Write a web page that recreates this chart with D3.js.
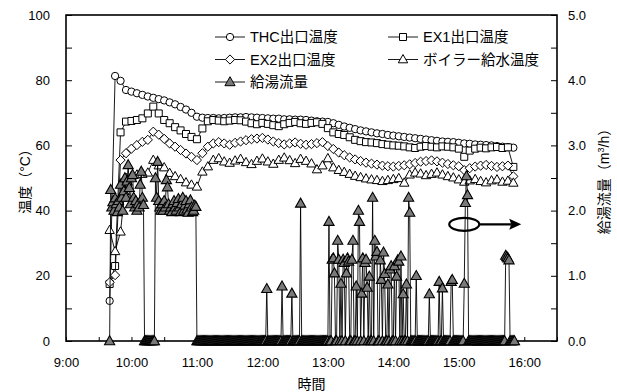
<!DOCTYPE html>
<html>
<head>
<meta charset="utf-8">
<script src="https://cdn.jsdelivr.net/npm/d3@7"></script>
<style>
  body { margin: 0; background: #fff; }
  svg text { font-family: "Liberation Sans", "Noto Sans CJK JP", sans-serif; fill: #000; }
</style>
</head>
<body>
<div id="chart"></div>
<script>
// ---- data ----
const legendLabels = ['THC出口温度', 'EX1出口温度', 'EX2出口温度', 'ボイラー給水温度', '給湯流量'];
const xTickLabels = ['9:00', '10:00', '11:00', '12:00', '13:00', '14:00', '15:00', '16:00'];
const tempTickLabels = [0, 20, 40, 60, 80, 100];
const flowTickLabels = [0, 1, 2, 3, 4, 5];

// temperatures: one reading every 5 minutes from 9:40
const tempStart = '9:40';
const thcTemp = [
  12.3, 81.3, 79.8, 77.0, 76.5, 76.0, 75.5, 75.0, 74.6, 74.2,
  73.8, 73.2, 72.6, 71.8, 71.0, 70.0, 68.8, 68.5, 68.4, 68.4,
  68.3, 68.4, 68.5, 68.6, 68.6, 68.7, 68.6, 68.5, 68.4, 68.3,
  68.2, 68.2, 68.0, 68.0, 67.9, 67.9, 67.8, 67.6, 67.4, 67.3,
  67.2, 66.8, 66.3, 65.8, 65.4, 65.0, 64.6, 64.3, 64.0, 63.7,
  63.5, 63.2, 63.0, 62.8, 62.6, 62.4, 62.2, 62.0, 61.8, 61.6,
  61.4, 61.2, 61.1, 61.0, 60.8, 60.6, 60.5, 60.3, 60.2, 60.1,
  60.0, 59.8, 59.6, 59.5, 59.3
];
const ex1Temp = [
  17.5, 23.0, 64.0, 67.3, 67.5, 67.8, 68.3, 69.8, 71.9, 69.8,
  67.8, 66.8, 65.6, 64.6, 63.5, 62.6, 61.9, 65.2, 67.4, 67.8,
  67.6, 67.4, 67.6, 67.8, 67.7, 67.3, 66.8, 66.5, 66.9, 66.6,
  66.2, 65.9, 66.5, 66.9, 67.2, 66.8, 66.6, 66.9, 67.1, 66.6,
  65.3, 64.0, 63.5, 63.2, 62.5, 61.7, 61.3, 61.0, 60.9, 60.7,
  60.4, 60.2, 60.0, 59.9, 59.7, 59.4, 59.2, 59.6, 59.8, 59.6,
  59.4, 59.7, 59.6, 59.4, 59.0, 56.5, 58.4, 59.0, 59.3, 59.1,
  59.4, 59.5, 59.2, 59.4, 53.4
];
const ex2Temp = [
  18.0, 20.2, 55.5, 57.6, 59.0, 60.1, 61.1, 61.7, 64.2, 63.3,
  62.0, 60.6, 59.6, 58.6, 57.5, 56.5, 55.5, 57.6, 59.6, 60.6,
  61.0, 60.6, 60.2, 60.8, 61.2, 61.6, 61.9, 62.1, 62.3, 61.8,
  61.2, 60.7, 60.3, 60.6, 60.9, 60.5, 60.2, 60.4, 60.7, 61.0,
  59.8, 58.9, 57.8, 57.0, 56.3, 55.7, 55.2, 54.7, 54.4, 54.1,
  53.8, 53.6, 53.5, 53.7, 53.9, 54.2, 54.6, 55.0, 55.2, 55.4,
  55.1, 54.7, 54.3, 53.9, 53.6, 52.4, 53.0, 53.5, 53.8, 54.0,
  53.7, 53.4, 53.6, 53.8, 50.5
];
const boilerTemp = [
  34.0, 27.5, 33.5, 50.0, 50.6, 51.0, 51.2, 51.6, 55.5, 53.8,
  53.2, 51.5, 50.5, 49.6, 48.6, 47.9, 47.3, 51.9, 53.5, 55.5,
  56.0, 55.0, 54.6, 55.3, 55.8, 54.8, 54.2, 55.2, 55.9, 55.0,
  54.3, 55.5, 56.2, 55.4, 54.5, 55.8, 55.2, 54.4, 52.6, 53.8,
  56.0, 53.2, 52.4, 51.8, 51.2, 50.6, 50.2, 49.8, 49.5, 49.3,
  49.0, 49.3, 49.6, 49.9, 48.5, 51.0, 51.6, 51.3, 50.8, 51.2,
  51.6, 51.0, 50.5, 50.1, 49.5, 48.8, 49.2, 49.6, 49.0, 48.6,
  49.2, 49.5, 48.8, 49.1, 48.5
];

// hot-water flow (m3/h): one reading every minute, one block per hour
const flowBlockStarts = ['9:40', '10:00', '11:00', '12:00', '13:00', '14:00', '15:00'];
const flow09 = [
  0, 2.32, 2.05, 2.13, 2.00, 2.19, 2.10, 1.98, 2.15, 2.05,
  2.40, 2.20, 2.00, 2.30, 2.50, 2.20, 2.45, 2.70, 2.35, 2.10
];
const flow10 = [
  2.50, 2.55, 2.20, 2.05, 2.15, 2.00, 2.10, 2.05, 2.40, 2.60,
  2.20, 2.09, 0, 0, 0, 0, 0, 0, 0, 0,
  0, 0, 2.50, 2.20, 2.75, 2.15, 2.05, 2.00, 2.10, 2.00,
  2.15, 2.05, 2.47, 2.36, 2.10, 2.00, 2.05, 1.98, 2.10, 2.15,
  2.05, 2.00, 2.12, 2.18, 2.05, 1.98, 2.10, 2.20, 2.00, 2.08,
  2.15, 2.02, 1.97, 2.10, 2.16, 2.05, 1.98, 2.00, 2.08, 2.06
];
const flow11 = [
  0, 0, 0, 0, 0, 0, 0, 0, 0, 0,
  0, 0, 0, 0, 0, 0, 0, 0, 0, 0,
  0, 0, 0, 0, 0, 0, 0, 0, 0, 0,
  0, 0, 0, 0, 0, 0, 0, 0, 0, 0,
  0, 0, 0, 0, 0, 0, 0, 0, 0, 0,
  0, 0, 0, 0, 0, 0, 0, 0, 0, 0
];
const flow12 = [
  0, 0, 0, 0, 0.80, 0, 0, 0, 0, 0,
  0, 0, 0, 0, 0, 0, 0, 0, 0.84, 0,
  0, 0, 0, 0, 0, 0, 0, 0.73, 0, 0,
  0, 0, 0, 0, 0, 2.11, 0, 0, 0, 0,
  0, 0, 0, 0, 0, 0, 0, 0, 0, 0,
  0, 0, 0, 0, 0, 0, 0, 0, 0, 0
];
const flow13 = [
  0, 1.83, 0, 0, 1.25, 1.27, 1.04, 0, 0, 1.54,
  1.25, 0, 0.88, 0, 1.25, 1.20, 0, 1.04, 1.27, 1.22,
  0, 0, 1.25, 1.54, 0, 0, 0.84, 0, 2.00, 1.83,
  0, 0.73, 1.27, 0, 1.20, 1.25, 0.82, 0, 0.99, 0,
  0, 2.20, 0, 1.54, 1.30, 1.37, 0, 0, 1.24, 0.94,
  0, 1.36, 1.03, 0, 0, 0.87, 0, 1.10, 1.15, 0
];
const flow14 = [
  0, 1.15, 0, 0.99, 1.24, 1.22, 0, 1.30, 0, 0.72,
  0, 0, 0.87, 0, 2.20, 1.97, 0, 0, 0, 0,
  0, 1.00, 0, 0, 0, 0, 0, 0, 0, 0,
  0, 0, 0, 0.72, 0, 0, 0, 0, 0, 0,
  0, 0, 0.91, 0, 0, 0.81, 0, 0, 0, 0,
  0, 0, 0, 0.91, 0.94, 0, 0, 0, 0, 0
];
const flow15 = [
  0, 0, 0, 0, 0, 0.88, 2.12, 2.53, 2.24, 0,
  0, 0, 0, 0, 0, 0, 0, 0, 0, 0,
  0, 0, 0, 0, 0, 0, 0, 0, 0, 0,
  0, 0, 0, 0, 0, 0, 0, 0, 0, 0,
  0, 0, 0, 1.31, 1.29, 1.27, 1.24, 0, 0, 0,
  0, 0
];

// ---- layout ----
const width = 617;
const height = 392;
const margin = { top: 15, right: 60, bottom: 51, left: 66 };
const innerW = width - margin.left - margin.right;
const innerH = height - margin.top - margin.bottom;

const parseTime = d3.timeParse('%H:%M');
const fmtTime = d3.timeFormat('%-H:%M');

const xScale = d3.scaleTime()
  .domain([parseTime('9:00'), parseTime('16:30')])
  .range([0, innerW]);
const yTemp = d3.scaleLinear().domain([0, 100]).range([innerH, 0]);
const yFlow = d3.scaleLinear().domain([0, 5]).range([innerH, 0]);

const markerPaths = {
  circle: d3.symbol().type(d3.symbolCircle).size(42)(),
  square: 'M-3.5,-3.5H3.5V3.5H-3.5Z',
  diamond: 'M0,-4.6L4.6,0L0,4.6L-4.6,0Z',
  triangle: 'M0,-5L4.7,3.3L-4.7,3.3Z',
  flow: 'M0,-5.3L5.1,3.7L-5.1,3.7Z'
};

const tempSeries = [
  { name: legendLabels[0], values: thcTemp, shape: 'circle' },
  { name: legendLabels[1], values: ex1Temp, shape: 'square' },
  { name: legendLabels[2], values: ex2Temp, shape: 'diamond' },
  { name: legendLabels[3], values: boilerTemp, shape: 'triangle' }
].map(s => ({
  ...s,
  points: s.values.map((v, i) => ({ t: d3.timeMinute.offset(parseTime(tempStart), i * 5), v }))
}));

const flowBlocks = [flow09, flow10, flow11, flow12, flow13, flow14, flow15];
const flowPoints = flowBlocks.flatMap((block, b) =>
  block.map((v, i) => ({ t: d3.timeMinute.offset(parseTime(flowBlockStarts[b]), i), v })));

// ---- drawing ----
const svg = d3.select('#chart')
  .append('svg')
  .attr('width', width)
  .attr('height', height);

const g = svg.append('g')
  .attr('transform', `translate(${margin.left},${margin.top})`);

// axes
const xAxis = d3.axisBottom(xScale)
  .tickValues(d3.timeMinute.every(30).range(parseTime('9:00'), parseTime('16:31')))
  .tickSizeInner(-4)
  .tickSizeOuter(0)
  .tickPadding(17)
  .tickFormat(d => xTickLabels.includes(fmtTime(d)) ? fmtTime(d) : '');
const yAxisLeft = d3.axisLeft(yTemp)
  .tickValues(d3.range(0, 101, 10))
  .tickSizeInner(-6)
  .tickSizeOuter(0)
  .tickPadding(16)
  .tickFormat(d => tempTickLabels.includes(d) ? d : '');
const yAxisRight = d3.axisRight(yFlow)
  .tickValues(d3.range(0, 5.01, 0.5))
  .tickSizeInner(-6)
  .tickSizeOuter(0)
  .tickPadding(11)
  .tickFormat(d => flowTickLabels.includes(d) ? d3.format('.1f')(d) : '');

g.append('g').attr('class', 'x-axis')
  .attr('transform', `translate(0,${innerH})`)
  .call(xAxis);
g.append('g').attr('class', 'y-axis-left').call(yAxisLeft);
g.append('g').attr('class', 'y-axis-right')
  .attr('transform', `translate(${innerW},0)`)
  .call(yAxisRight);

g.selectAll('.domain').remove();
g.selectAll('.tick line').attr('stroke', '#000').attr('stroke-width', 1);
g.selectAll('.tick text').attr('font-size', 13).attr('fill', '#000');

// frame
g.append('rect')
  .attr('width', innerW)
  .attr('height', innerH)
  .attr('fill', 'none')
  .attr('stroke', '#000')
  .attr('stroke-width', 1.6);

// temperature series
const tempLine = d3.line().x(d => xScale(d.t)).y(d => yTemp(d.v));
tempSeries.forEach(s => {
  const sg = g.append('g').attr('class', 'series');
  sg.append('path')
    .attr('d', tempLine(s.points))
    .attr('fill', 'none')
    .attr('stroke', '#000')
    .attr('stroke-width', 0.9);
  sg.selectAll('path.mk')
    .data(s.points)
    .join('path')
    .attr('class', 'mk')
    .attr('d', markerPaths[s.shape])
    .attr('transform', d => `translate(${xScale(d.t)},${yTemp(d.v)})`)
    .attr('fill', '#fff')
    .attr('stroke', '#000')
    .attr('stroke-width', 1);
});

// flow series (secondary axis)
const flowLine = d3.line().x(d => xScale(d.t)).y(d => yFlow(d.v));
const fg = g.append('g').attr('class', 'flow');
fg.append('path')
  .attr('d', flowLine(flowPoints))
  .attr('fill', 'none')
  .attr('stroke', '#000')
  .attr('stroke-width', 0.9);
fg.selectAll('path.mk')
  .data(flowPoints)
  .join('path')
  .attr('class', 'mk')
  .attr('d', markerPaths.flow)
  .attr('transform', d => `translate(${xScale(d.t)},${yFlow(d.v)})`)
  .attr('fill', '#7a7a7a')
  .attr('stroke', '#000')
  .attr('stroke-width', 1.1);

// annotation: ellipse + arrow pointing at the right axis
const ax = xScale(parseTime('15:05'));
const ay = yFlow(1.79);
g.append('ellipse')
  .attr('cx', ax).attr('cy', ay)
  .attr('rx', 15).attr('ry', 6.5)
  .attr('fill', 'none')
  .attr('stroke', '#000')
  .attr('stroke-width', 2.2);
g.append('line')
  .attr('x1', ax + 15).attr('y1', ay)
  .attr('x2', ax + 47).attr('y2', ay)
  .attr('stroke', '#000')
  .attr('stroke-width', 2.2);
g.append('path')
  .attr('d', `M${ax + 57},${ay}L${ax + 45},${ay - 5.5}L${ax + 47},${ay}L${ax + 45},${ay + 5.5}Z`)
  .attr('fill', '#000');

// legend
const legendItems = [
  { name: legendLabels[0], shape: 'circle', fill: '#fff', col: 0, row: 0 },
  { name: legendLabels[1], shape: 'square', fill: '#fff', col: 1, row: 0 },
  { name: legendLabels[2], shape: 'diamond', fill: '#fff', col: 0, row: 1 },
  { name: legendLabels[3], shape: 'triangle', fill: '#fff', col: 1, row: 1 },
  { name: legendLabels[4], shape: 'flow', fill: '#7a7a7a', col: 0, row: 2 }
];
const legend = svg.append('g').attr('class', 'legend');
const li = legend.selectAll('g')
  .data(legendItems)
  .join('g')
  .attr('transform', d => `translate(${d.col === 0 ? 215 : 388},${37 + d.row * 22.5})`);
li.append('line')
  .attr('x1', 0).attr('x2', 30)
  .attr('stroke', '#000')
  .attr('stroke-width', 0.9);
li.append('path')
  .attr('d', d => markerPaths[d.shape])
  .attr('transform', 'translate(15,0)')
  .attr('fill', d => d.fill)
  .attr('stroke', '#000')
  .attr('stroke-width', 1);
li.append('text')
  .attr('x', 35)
  .attr('dy', '0.36em')
  .attr('font-size', 14.5)
  .text(d => d.name);

// axis titles
svg.append('text')
  .attr('x', margin.left + innerW / 2)
  .attr('y', 389)
  .attr('text-anchor', 'middle')
  .attr('font-size', 14)
  .text('時間');
svg.append('text')
  .attr('transform', `translate(30,${margin.top + innerH / 2}) rotate(-90)`)
  .attr('text-anchor', 'middle')
  .attr('font-size', 14)
  .text('温度（°C）');
const rt = svg.append('text')
  .attr('transform', `translate(609,${margin.top + innerH / 2}) rotate(-90)`)
  .attr('text-anchor', 'middle')
  .attr('font-size', 14);
rt.append('tspan').text('給湯流量（m');
rt.append('tspan').attr('dy', -5).attr('font-size', 9).text('3');
rt.append('tspan').attr('dy', 5).text('/h）');
</script>
</body>
</html>
